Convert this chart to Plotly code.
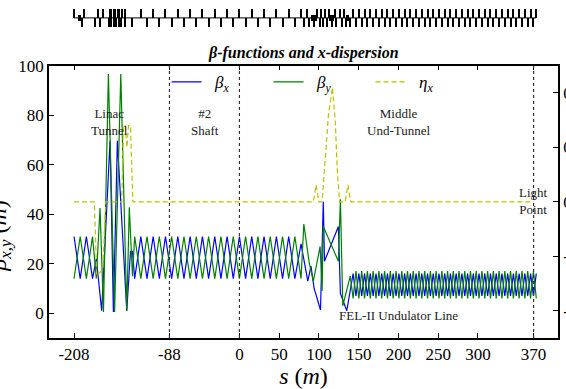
import plotly.graph_objects as go

# ---------------- data ----------------
# beta_x turning points
s_bx = [-208, -200.25, -192.5, -184.75, -180, -173.2, -162.7, -158.5, -153.5, -141.7, -137, -134.5,
        -131.75, -124.0, -116.25, -108.5, -100.75, -93.0, -85.25, -77.5, -69.75, -62.0, -54.25, -46.5,
        -38.75, -31.0, -23.25, -15.5, -7.75, 0.0, 7.75, 15.5, 23.25, 31.0, 38.75, 46.5, 54.25, 62.0, 69.75,
        77.5, 86, 90, 94, 102, 105.5, 107, 124.5, 127, 135,
        143.0, 146.6, 150.2, 153.8, 157.4, 161.0, 164.6, 168.2, 171.8, 175.4, 179.0, 182.6, 186.2,
        189.8, 193.4, 197.0, 200.6, 204.2, 207.8, 211.4, 215.0, 218.6, 222.2, 225.8, 229.4, 233.0,
        236.6, 240.2, 243.8, 247.4, 251.0, 254.6, 258.2, 261.8, 265.4, 269.0, 272.6, 276.2, 279.8,
        283.4, 287.0, 290.6, 294.2, 297.8, 301.4, 305.0, 308.6, 312.2, 315.8, 319.4, 323.0, 326.6,
        330.2, 333.8, 337.4, 341.0, 344.6, 348.2, 351.8, 355.4, 359.0, 362.6, 366.2, 369.8, 373.4]
bx = [31, 14, 31, 14, 22, 1, 69.7, 0.5, 69.7, 1, 25, 25,
      14, 31, 14, 31, 14, 31, 14, 31, 14, 31, 14, 31,
      14, 31, 14, 31, 14, 31, 14, 31, 14, 31, 14, 31, 14, 31, 14,
      28, 13, 19, 10, 1.3, 45, 21, 35, 8, 1,
      16, 7, 16, 7, 16, 7, 16, 7, 16, 7, 16, 7, 16,
      7, 16, 7, 16, 7, 16, 7, 16, 7, 16, 7, 16, 7,
      16, 7, 16, 7, 16, 7, 16, 7, 16, 7, 16, 7, 16,
      7, 16, 7, 16, 7, 16, 7, 16, 7, 16, 7, 16, 7,
      16, 7, 16, 7, 16, 7, 16, 7, 16, 7, 16, 7, 16]

# beta_y turning points
s_by = [-208, -200.25, -192.5, -184.75, -180, -175.3, -171, -164.8, -157, -149.2, -141.7, -138.5, -134.5,
        -131.75, -124.0, -116.25, -108.5, -100.75, -93.0, -85.25, -77.5, -69.75, -62.0, -54.25, -46.5,
        -38.75, -31.0, -23.25, -15.5, -7.75, 0.0, 7.75, 15.5, 23.25, 31.0, 38.75, 46.5, 54.25, 62.0, 69.75,
        77.5, 81, 88, 93, 101.5, 104, 105.5, 124.5, 127, 130, 139.4,
        143.0, 146.6, 150.2, 153.8, 157.4, 161.0, 164.6, 168.2, 171.8, 175.4, 179.0, 182.6, 186.2,
        189.8, 193.4, 197.0, 200.6, 204.2, 207.8, 211.4, 215.0, 218.6, 222.2, 225.8, 229.4, 233.0,
        236.6, 240.2, 243.8, 247.4, 251.0, 254.6, 258.2, 261.8, 265.4, 269.0, 272.6, 276.2, 279.8,
        283.4, 287.0, 290.6, 294.2, 297.8, 301.4, 305.0, 308.6, 312.2, 315.8, 319.4, 323.0, 326.6,
        330.2, 333.8, 337.4, 341.0, 344.6, 348.2, 351.8, 355.4, 359.0, 362.6, 366.2, 369.8, 373.4]
by = [14, 31, 14, 31, 14, 42.5, 0.5, 96.6, 0.5, 96.6, 1, 42.8, 15,
      31, 14, 31, 14, 31, 14, 31, 14, 31, 14, 31, 14,
      31, 14, 31, 14, 31, 14, 31, 14, 31, 14, 31, 14, 31, 14, 31,
      14, 36, 20, 13, 27, 9, 35, 21, 46, 3, 15,
      6, 17, 6, 17, 6, 17, 6, 17, 6, 17, 6, 17, 6,
      17, 6, 17, 6, 17, 6, 17, 6, 17, 6, 17, 6, 17,
      6, 17, 6, 17, 6, 17, 6, 17, 6, 17, 6, 17, 6,
      17, 6, 17, 6, 17, 6, 17, 6, 17, 6, 17, 6, 17,
      6, 17, 6, 17, 6, 17, 6, 17, 6, 17, 6, 17, 6]

# eta_x (m), right axis
s_eta = [-208, -182.5, -179.5, -172, -168, -148, -146, -143.5, -141.5, -139.5, -137, -134,
         88, 93, 96.5, 100, 104, 108, 112, 117, 120.5, 123, 126, 133, 136.5, 140, 370]
eta = [0, 0, -0.27, -0.25, 0, 0, 0.28, 0.28, 0.2, 0.28, 0.28, 0,
       0, 0, 0.062, 0, 0, 0.15, 0.32, 0.42, 0.3, 0.12, 0, 0, 0.062, 0, 0]

# lattice elements (top strip)
quad_up_s = [-208, -195.4, -177.4, -171.1, -147.6, -143.8,
             -124.0, -108.5, -93.0, -77.5, -62.0, -46.5, -31.0, -15.5, 0.0, 15.5, 31.0, 46.5, 62.0,
             77.5, 85, 98, 102, 108, 113, 120, 126, 131,
             143.0, 150.2, 157.4, 164.6, 171.8, 179.0, 186.2, 193.4, 200.6, 207.8, 215.0, 222.2,
             229.4, 236.6, 243.8, 251.0, 258.2, 265.4, 272.6, 279.8, 287.0, 294.2, 301.4, 308.6,
             315.8, 323.0, 330.2, 337.4, 344.6, 351.8, 359.0, 366.2, 373.4]
quad_dn_s = [-198.3, -181.6, -175.3, -164, -161, -158, -155, -152, -149, -143.8, -135.4,
             -116.25, -100.75, -85.25, -69.75, -54.25, -38.75, -23.25, -7.75, 7.75, 23.25, 38.75,
             54.25, 69.75,
             81, 88, 94, 101, 105, 110, 116, 122, 129, 134, 139,
             146.6, 153.8, 161.0, 168.2, 175.4, 182.6, 189.8, 197.0, 204.2, 211.4, 218.6, 225.8,
             233.0, 240.2, 247.4, 254.6, 261.8, 269.0, 276.2, 283.4, 290.6, 297.8, 305.0, 312.2,
             319.4, 326.6, 333.8, 341.0, 348.2, 355.4, 362.6, 369.8]
block_up_s = [-162.0, -157.0, -152.3]
dipole_s = [-201.0, 92, 96, 115, 118, 136]
lattice_span = [-208, 373.4]

# markers and labels
marker_s = [-88, 0, 370]
xtick_vals = [-208, -88, 0, 50, 100, 150, 200, 250, 300, 370]
ytick_vals = [0, 20, 40, 60, 80, 100]
y2tick_vals = [-0.4, -0.2, 0.0, 0.2, 0.4]
y2tick_text = ["-0.4", "-0.2", "0.0", "0.2", "0.4"]
region_labels = [("Linac<br>Tunnel", -163, 77.2), ("#2<br>Shaft", -43, 77.2),
                 ("Middle<br>Und-Tunnel", 200, 77.2), ("Light<br>Point", 370, 45.2),
                 ("FEL-II Undulator Line", 200, -1.1)]

SERIF = "Liberation Serif, Times New Roman, serif"
NB = "\u00a0"

fig = go.Figure()
fig.add_trace(go.Scatter(x=s_bx, y=bx, mode="lines", name=NB * 2 + "β<sub>x</sub>",
                         line=dict(color="#0000ff", width=1.2)))
fig.add_trace(go.Scatter(x=s_by, y=by, mode="lines", name=NB * 2 + "β<sub>y</sub>",
                         line=dict(color="#008000", width=1.2)))
fig.add_trace(go.Scatter(x=s_eta, y=eta, mode="lines", yaxis="y2", name=NB * 2 + "η<sub>x</sub>",
                         line=dict(color="#bfbf00", width=1.2, dash="5px,3px")))

# lattice strip
fig.add_trace(go.Scatter(x=lattice_span, y=[0, 0], mode="lines", yaxis="y3", showlegend=False,
                         line=dict(color="black", width=1), hoverinfo="skip"))
fig.add_trace(go.Bar(x=quad_up_s, y=[0.95] * len(quad_up_s), base=0, width=1.3, yaxis="y3",
                     marker=dict(color="black", line=dict(width=0)), showlegend=False))
fig.add_trace(go.Bar(x=quad_dn_s, y=[0.95] * len(quad_dn_s), base=-0.95, width=1.3, yaxis="y3",
                     marker=dict(color="black", line=dict(width=0)), showlegend=False))
fig.add_trace(go.Bar(x=block_up_s, y=[0.95] * len(block_up_s), base=0, width=4.0, yaxis="y3",
                     marker=dict(color="black", line=dict(width=0)), showlegend=False))
fig.add_trace(go.Bar(x=dipole_s, y=[0.6] * len(dipole_s), base=-0.3, width=2.5, yaxis="y3",
                     marker=dict(color="black", line=dict(width=0)), showlegend=False))

for s in marker_s:
    fig.add_shape(type="line", xref="x", yref="y domain", x0=s, x1=s, y0=0, y1=1,
                  line=dict(color="#333333", width=1.2, dash="dot"), layer="above")

for txt, xs, yv in region_labels:
    fig.add_annotation(text=txt, x=xs, y=yv, xref="x", yref="y", showarrow=False,
                       font=dict(family=SERIF, size=13, color="#222222"), align="center")

# title
fig.add_annotation(text="<b><i>β-functions and x-dispersion</i></b>", xref="paper", yref="paper",
                   x=0.5, y=0.864, showarrow=False, yanchor="middle",
                   font=dict(family=SERIF, size=16, color="black"))
# y axis title (rotated, mostly off the left edge as in the reference)
fig.add_annotation(text="<i>β</i><sub><i>x,y</i></sub> (<i>m</i>)", xref="paper", yref="paper",
                   x=-0.063, y=0.31, xanchor="right", yanchor="middle", textangle=-90,
                   showarrow=False, font=dict(family=SERIF, size=24, color="black"))

axis_common = dict(showline=True, linecolor="black", linewidth=1.5, ticks="inside", ticklen=5,
                   tickwidth=1, tickcolor="black", showgrid=False, zeroline=False, automargin=False,
                   tickfont=dict(family=SERIF, size=17, color="black"))

fig.update_layout(
    width=566, height=389,
    margin=dict(l=49, r=8, t=8, b=51, autoexpand=False),
    font=dict(family=SERIF, color="black"),
    paper_bgcolor="white", plot_bgcolor="white",
    barmode="overlay", bargap=0,
    xaxis=dict(range=[-239.5, 400.7], tickvals=xtick_vals, ticktext=[str(v) for v in xtick_vals],
               mirror="ticks", title=dict(text="<i>s</i> (<i>m</i>)", standoff=3,
                                          font=dict(family=SERIF, size=24, color="black")),
               **axis_common),
    yaxis=dict(range=[-10, 100], domain=[0, 0.8252], tickvals=ytick_vals, mirror=False, **axis_common),
    yaxis2=dict(range=[-0.5, 0.5], overlaying="y", side="right", anchor="x", tickvals=y2tick_vals,
                ticktext=y2tick_text, **axis_common),
    yaxis3=dict(range=[-1.05, 1.05], domain=[0.94, 1.0], anchor="x", visible=False, fixedrange=True),
    legend=dict(orientation="h", x=0.231, y=0.775, xanchor="left", yanchor="middle",
                bgcolor="rgba(0,0,0,0)", entrywidth=57, entrywidthmode="pixels",
                font=dict(family=SERIF, size=17, color="black", style="italic")),
    showlegend=True,
)

fig.write_html("out.html")
